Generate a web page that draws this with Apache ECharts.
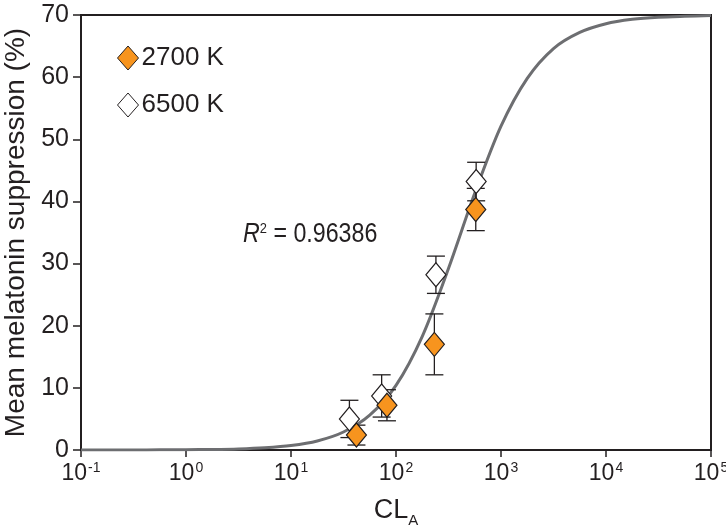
<!DOCTYPE html>
<html><head><meta charset="utf-8">
<script src="https://cdn.jsdelivr.net/npm/echarts@6/dist/echarts.min.js"></script>
<style>html,body{margin:0;padding:0;background:#fff}#c{width:726px;height:526px}</style>
</head><body><div id="c"></div>
<script>
// fitted curve (CLA, suppression %)
const curveX = [0.1,0.178,0.316,0.562,1,1.78,3.16,5.62,10,17.8,31.6,56.2,100,178,316,562,1000,1778,3162,5623,10000,17783,31623,56234,100000];
const curveY = [0.003,0.005,0.011,0.022,0.045,0.09,0.18,0.37,0.73,1.46,2.9,5.6,10.4,18.3,29.2,41.3,52.1,59.8,64.6,67.2,68.6,69.3,69.65,69.8,69.9];
// 2700 K
const k2700X = [42, 82, 232, 575];
const k2700Y = [2.4, 7.2, 17.0, 38.7];
const k2700Err = [1.6, 2.5, 4.9, 3.4];
// 6500 K
const k6500X = [36, 73, 240, 580];
const k6500Y = [5.0, 8.7, 28.2, 43.2];
const k6500Err = [3.0, 3.4, 3.0, 3.1];

const FONT = '"Liberation Sans", Arial, Helvetica, sans-serif';
const ORANGE = '#f7941e';
const AX = '#231f20';

function errSeries(xs, ys, es, z) {
  return {
    type: 'custom', z: z, silent: true,
    data: xs.map((x, i) => [x, ys[i], es[i]]),
    renderItem: function (params, api) {
      const x = api.value(0), y = api.value(1), e = api.value(2);
      const top = api.coord([x, y + e]);
      const bot = api.coord([x, y - e]);
      const w = 9;
      const st = {stroke: AX, lineWidth: 1.3};
      return {type: 'group', children: [
        {type: 'line', shape: {x1: top[0], y1: top[1], x2: bot[0], y2: bot[1]}, style: st},
        {type: 'line', shape: {x1: top[0]-w, y1: top[1], x2: top[0]+w, y2: top[1]}, style: st},
        {type: 'line', shape: {x1: bot[0]-w, y1: bot[1], x2: bot[0]+w, y2: bot[1]}, style: st}
      ]};
    }
  };
}

const chart = echarts.init(document.getElementById('c'));
chart.setOption({
  animation: false,
  textStyle: {fontFamily: FONT},
  grid: {left: 81, right: 15, top: 15, bottom: 76, show: true, borderColor: AX, borderWidth: 2,
         containLabel: false, outerBoundsMode: 'none'},
  legend: {
    orient: 'vertical', left: 112, top: 40, itemGap: 21, itemWidth: 21, itemHeight: 24,
    textStyle: {fontSize: 26, color: AX, fontFamily: FONT, padding: [0,0,0,-2]},
    data: [
      {name: '2700 K', icon: 'diamond', itemStyle: {color: ORANGE, borderColor: AX, borderWidth: 1}},
      {name: '6500 K', icon: 'diamond', itemStyle: {color: '#fff', borderColor: AX, borderWidth: 1}}
    ]
  },
  xAxis: {
    type: 'log', logBase: 10, min: 0.1, max: 100000,
    name: '{b|CL}{s|A}', nameLocation: 'middle', nameGap: 47,
    nameTextStyle: {rich: {b: {fontSize: 27, color: AX, fontFamily: FONT, verticalAlign: 'bottom'}, s: {fontSize: 15, color: AX, fontFamily: FONT, verticalAlign: 'bottom', padding: [0,0,-4,0]}}},
    axisLine: {lineStyle: {color: AX, width: 2}},
    axisTick: {show: true, length: 7, lineStyle: {color: AX, width: 1.5}},
    splitLine: {show: false},
    minorTick: {show: false},
    axisLabel: {
      margin: 11,
      formatter: function (v) {
        const e = Math.round(Math.log10(v));
        return '{b|10}{s|' + e + '}';
      },
      rich: {
        b: {fontSize: 23, color: AX, fontFamily: FONT, lineHeight: 24, verticalAlign: 'bottom'},
        s: {fontSize: 14, color: AX, fontFamily: FONT, verticalAlign: 'top', lineHeight: 14, padding: [0,0,9,1]}
      }
    }
  },
  yAxis: {
    type: 'value', min: 0, max: 70, interval: 10,
    name: 'Mean melatonin suppression (%)', nameLocation: 'middle', nameGap: 50,
    nameTextStyle: {fontSize: 28, color: AX, fontFamily: FONT},
    axisLine: {show: true, lineStyle: {color: AX, width: 2}},
    axisTick: {show: true, length: 8, lineStyle: {color: AX, width: 1.5}},
    splitLine: {show: false},
    axisLabel: {fontSize: 25, color: AX, margin: 12, fontFamily: FONT}
  },
  graphic: [{
    type: 'text', left: 243, top: 221, z: 100,
    scaleX: 0.86, originX: 0,
    style: {
      text: '{i|R}{s|2}{t| = 0.96386}',
      rich: {
        i: {fontSize: 27, fontStyle: 'italic', fill: AX, fontFamily: FONT, verticalAlign: 'bottom'},
        s: {fontSize: 15, fill: AX, fontFamily: FONT, verticalAlign: 'top', padding: [0,0,9,0]},
        t: {fontSize: 27, fill: AX, fontFamily: FONT, verticalAlign: 'bottom'}
      }
    }
  }],
  series: [
    {type: 'line', name: 'fit', data: curveX.map((x, i) => [x, curveY[i]]), smooth: 0.3, showSymbol: false,
     lineStyle: {color: '#6d6e71', width: 3}, z: 1, silent: true},
    errSeries(k6500X, k6500Y, k6500Err, 2),
    errSeries(k2700X, k2700Y, k2700Err, 2),
    {type: 'scatter', name: '6500 K', data: k6500X.map((x, i) => [x, k6500Y[i]]), symbol: 'diamond', symbolSize: [20, 24],
     itemStyle: {color: '#fff', borderColor: AX, borderWidth: 1.2, opacity: 1}, z: 3},
    {type: 'scatter', name: '2700 K', data: k2700X.map((x, i) => [x, k2700Y[i]]), symbol: 'diamond', symbolSize: [20, 24],
     itemStyle: {color: ORANGE, borderColor: AX, borderWidth: 1.2, opacity: 1}, z: 4}
  ]
});
</script></body></html>
